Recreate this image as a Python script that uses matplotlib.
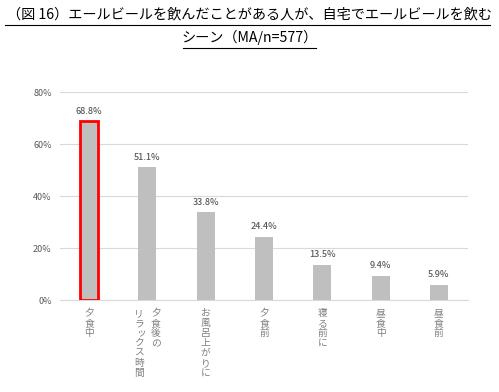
import matplotlib.pyplot as plt
from matplotlib.lines import Line2D
from matplotlib.ticker import FuncFormatter

plt.rcParams['font.family'] = ['Noto Sans CJK JP', 'DejaVu Sans']

# data
scenes = ['夕食中', '夕食後の\nリラックス時間', 'お風呂上がりに', '夕食前', '寝る前に', '昼食中', '昼食前']
values = [68.8, 51.1, 33.8, 24.4, 13.5, 9.4, 5.9]
title1 = '（図 16）エールビールを飲んだことがある人が、自宅でエールビールを飲む'
title2 = 'シーン（MA/n=577）'

W, H = 499, 392
fig = plt.figure(figsize=(W / 100, H / 100), dpi=100)
ax = fig.add_axes([60 / W, 1 - 300 / H, 408 / W, 208 / H])

x = list(range(len(scenes)))
edges = ['#ff0000'] + ['#bfbfbf'] * (len(scenes) - 1)
lws = [2] + [0] * (len(scenes) - 1)
bars = ax.bar(x, values, width=0.31, color='#bfbfbf', edgecolor=edges, linewidth=lws, zorder=3)

for xi, v in zip(x, values):
    ax.annotate(f'{v:.1f}%', (xi, v), xytext=(0, 4), textcoords='offset points',
                ha='center', va='bottom', fontsize=6.5, color='#595959', fontweight='medium')

ax.set_xlim(-0.5, len(scenes) - 0.5)
ax.set_ylim(0, 80)
ax.set_yticks([0, 20, 40, 60, 80])
ax.yaxis.set_major_formatter(FuncFormatter(lambda v, p: f'{v:.0f}%'))
ax.tick_params(axis='y', length=0, labelsize=6.5, labelcolor='#595959', pad=6)
ax.tick_params(axis='x', length=0, labelbottom=False)
ax.grid(axis='y', color='#d9d9d9', linewidth=0.8, zorder=0)
for s in ['top', 'right', 'left']:
    ax.spines[s].set_visible(False)
ax.spines['bottom'].set_color('#d9d9d9')

# vertical (tategaki) category labels, columns read right to left, one glyph at a time
step = 7.2
for xi, lab in zip(x, scenes):
    cols = lab.split('\n')
    n = len(cols)
    for j, col in enumerate(cols):
        dx = (n - 1) * 6 - j * 12
        for k, ch in enumerate(col):
            small = ch in 'ッャュョ'
            ax.annotate(ch, (xi, 0), xycoords=('data', 'axes fraction'),
                        xytext=(dx + (1.2 if small else 0), -9.5 - k * step),
                        textcoords='offset points', ha='center', va='center',
                        fontsize=7, color='#7f7f7f')

# title with underline
fig.text(0.5, 1 - 14 / H, title1, ha='center', va='center', fontsize=10.2)
fig.text(0.5, 1 - 37 / H, title2, ha='center', va='center', fontsize=10.2)
fig.add_artist(Line2D([5 / W, 490 / W], [1 - 25 / H] * 2, color='black', linewidth=0.8))
fig.add_artist(Line2D([183 / W, 316 / W], [1 - 48 / H] * 2, color='black', linewidth=0.8))

fig.savefig('out.png', dpi=100)
